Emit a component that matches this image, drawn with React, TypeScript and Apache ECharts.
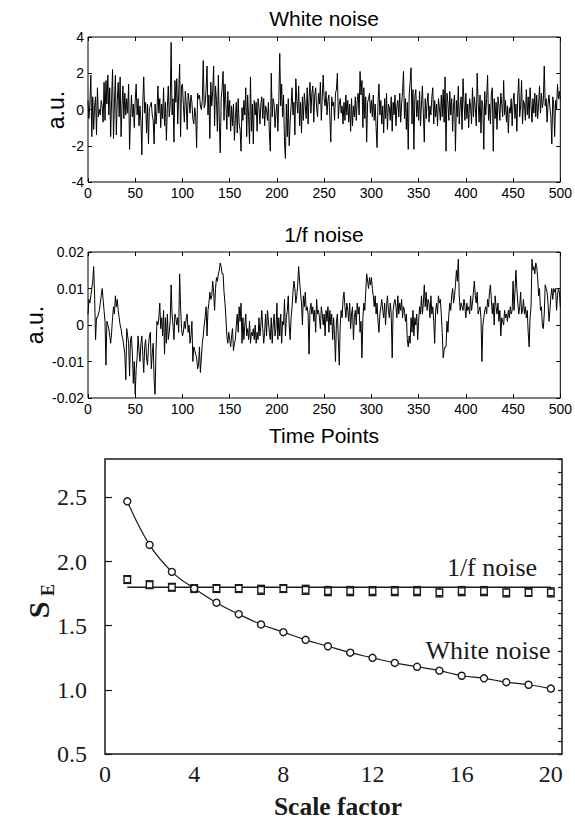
import React, { useEffect, useRef } from "react";
import * as echarts from "echarts";

// ---- Panel A: white noise time series (a.u.), time points 0..500
const whiteNoise = [
  0.5, -0.5, 0.3, 1.9, -1.5, 0.7, -1.1, 0.2, 0.7, -1.4, 1.2, -0.4, 0.0, -0.3, 0.5, 0.2, -0.7, 1.5, -0.6, 1.6, 0.3, 1.9, -0.3, 1.2, -1.5,
  0.6, 2.2, -1.6, 0.4, 1.9, -1.4, 0.5, 1.5, -0.4, 1.8, -1.5, 0.2, 1.3, -0.5, 0.9, -0.3, 0.6, -0.2, 1.4, -2.2, -0.5, 0.8, -0.4, 0.3, -1.0,
  0.5, 1.4, -0.3, 0.6, -0.9, 0.2, -0.6, -2.5, 0.4, 1.8, -0.2, 0.4, -1.3, 0.3, -1.9, 0.1, 0.2, 0.4, -0.3, -0.6, -1.9, 0.3, -0.8, -0.1, 1.3,
  -0.2, 0.6, -1.0, 0.3, -0.5, 1.2, -0.9, 0.4, -1.7, 0.1, 1.3, -0.4, 0.2, 3.7, -0.3, 0.6, -1.8, 1.6, 0.4, 1.7, -0.8, 0.9, 2.5, -1.5, 1.3,
  1.4, 0.2, -0.7, 1.0, 0.3, -1.1, 0.9, 0.5, -0.2, 0.8, 0.4, -0.5, -0.8, 0.1, -0.4, -2.1, 0.9, 0.6, 0.8, 0.2, 0.0, 0.5, 2.7, 0.1, 0.3,
  1.1, 2.4, -0.3, 0.8, -1.6, 1.5, 0.2, 1.0, 2.4, -0.9, 1.3, 0.5, -1.2, 1.9, -0.7, -2.4, 0.6, 1.2, 2.1, -0.6, 1.4, 0.3, -1.1, 1.0, -0.4,
  0.5, -1.2, 0.2, -0.9, 0.3, -1.7, -0.5, 0.4, -1.3, 0.6, -0.8, -1.1, -2.3, 0.1, -0.6, 0.5, -0.3, 1.2, -1.5, 0.8, -0.4, -1.9, 1.8, -1.2, 0.3,
  -1.9, 0.5, -0.3, 0.4, -1.2, 0.6, 0.1, -0.8, 0.3, 0.7, -0.5, 0.6, -0.9, 0.2, 0.0, -0.6, 0.4, -1.3, -2.3, 2.0, -0.4, 0.6, 0.3, -1.0, -0.2,
  0.3, -1.2, 0.5, 3.1, 0.2, 1.4, -0.4, 0.8, -1.8, -2.7, 0.3, -1.5, 0.6, -2.0, -0.7, 0.2, 1.2, -0.3, 0.4, -1.4, 1.7, 0.5, -0.2, 1.3, -0.9,
  0.4, -1.3, 0.7, -0.6, 0.9, 0.2, -0.5, 1.2, -0.8, 0.6, 1.5, -0.2, 0.9, 1.3, -0.7, 0.8, 1.2, 0.1, -0.4, 0.9, 0.3, 1.5, -0.6, 0.7, 1.9,
  0.6, 0.2, 1.0, -0.3, 0.5, 0.8, -0.4, -1.8, 0.7, 0.2, 0.4, -0.6, 0.9, 1.1, 2.0, -0.5, 0.3, 0.6, -0.2, 0.2, -0.8, 0.4, -0.6, 0.8, -0.3,
  0.5, -0.7, 0.3, -1.2, 0.6, -0.9, 0.2, -0.4, 0.7, -0.6, 0.5, 0.9, -0.3, 2.1, 0.8, 1.6, -1.0, 1.2, -0.5, 0.7, -1.8, 0.4, 0.6, 0.9, -0.2,
  0.5, -0.4, 0.8, -0.6, 0.3, -1.0, -2.1, 0.4, 1.4, -0.3, 0.5, -0.8, 0.2, -1.3, 0.6, -0.5, 0.9, -1.1, 0.3, 0.1, -0.6, 0.7, -1.2, 0.4, -0.3,
  0.8, -0.9, 0.2, 0.5, -0.4, 0.9, -0.7, 0.3, 1.0, 2.1, -0.5, 0.6, -1.1, 0.4, -2.2, 0.8, 1.5, 2.3, -0.8, 1.1, -2.2, 0.7, 1.1, -0.4, 0.5,
  -0.6, 1.0, -0.9, 0.3, 1.3, -0.2, -1.8, 0.6, -0.5, 0.4, 0.9, -0.7, 0.2, -0.3, 0.7, 1.2, -0.8, 0.5, -0.4, 0.3, -0.9, 0.6, 0.1, -0.6, 0.8,
  -0.4, 1.1, -0.7, 1.8, -2.3, 0.9, 0.4, -0.6, 1.0, -0.3, 0.6, -1.2, 0.3, 0.8, -2.3, 0.5, -0.4, 1.3, -0.8, 0.2, 0.7, -1.1, 1.7, 0.4, -0.6,
  0.9, -0.5, 0.3, -1.0, 0.6, 0.2, -0.8, 1.2, -0.4, 0.7, 0.1, -0.9, 2.0, 0.4, -0.7, 0.8, -1.3, 0.5, 0.2, -2.2, 1.0, -0.3, 0.6, 1.9, -0.6,
  0.3, -0.8, 0.9, 1.2, -2.3, 0.6, -0.5, 0.4, -1.1, 0.7, 0.2, -0.6, 0.9, 0.3, -0.4, 1.6, -0.3, 0.5, -0.7, 0.2, -1.3, 0.1, -0.2, 0.6, -0.9,
  0.4, 0.9, -0.5, 0.3, -1.2, 0.8, 1.7, -0.4, 0.2, 1.6, -0.8, 0.5, 0.3, -0.6, 1.1, -0.3, 0.7, -0.5, 1.2, 0.2, -0.7, 0.6, -0.2, 0.9, -0.4,
  0.8, -0.5, 0.3, 1.3, -0.2, 0.9, 0.1, 0.5, 2.4, 0.2, 0.6, -0.7, 0.3, 0.8, 0.1, -0.4, -1.9, 0.7, 0.3, -1.5, 0.5, 0.0, 1.4, 0.6, 1.0,
  0.5,
];

// ---- Panel B: 1/f noise time series, in thousandths of a.u.
const oneOverFNoiseMilli = [
  3, 7, 6, 8, 10, 12, 16, 8, -4, 2, 2, 3, 4, 6, 8, 10, 7, 4, 1, -11, 1, 0, -1, -3, -5,
  -2, 2, 5, 3, 8, 5, 7, 4, 2, 0, -1, -3, -4, -6, -8, -15, -1, -3, -5, -14, -4, -3, -8, -16, -10,
  -19, -12, -9, -3, -7, -10, -5, -3, -8, -13, -6, -4, -9, -11, -6, -3, -2, -12, -8, -5, -15, -19, -7, 1, 0,
  2, 6, -1, 2, -3, 4, -8, 2, -5, 3, -4, -2, 1, 11, 3, 0, -4, 3, 2, 0, 2, -2, 14, 5, -1,
  -3, -2, 1, -1, 2, 3, -2, 0, -5, -3, 1, -10, -6, -7, -8, -9, -12, -11, -6, -13, -9, -5, -3, 0, 2,
  5, -3, 4, 6, 9, 7, 8, 12, 9, 4, 10, 13, 12, 14, 15, 17, 16, 14, 14, 9, 6, 2, -3, -5, -2,
  -4, -6, -3, -1, -7, -5, -4, 0, 3, -2, 5, 1, 6, -5, 2, -4, 0, 3, -3, -1, -4, 1, -5, -2, -3,
  -1, -4, 0, -5, -2, -4, 2, -3, 0, 4, -1, -5, -2, 3, -3, 4, 1, -2, -4, 2, -5, 0, 3, -3, -1,
  6, -4, 2, -3, 3, -5, 1, 0, 7, -3, 2, 4, 8, 0, -4, 2, 5, 9, 12, 10, 6, 8, 11, 16, 12,
  9, 6, 0, 8, 5, 9, 4, 5, 3, -8, 4, 6, 3, 5, 1, 4, -2, 7, 3, 4, 2, -1, 5, 3, 0,
  3, -3, 4, 1, 5, -2, 4, 0, 3, -4, 2, -3, -10, 1, 3, -4, -11, 0, 4, 2, 7, 9, 5, 2, 6,
  4, 1, 6, -1, 3, 5, -4, 2, 4, 0, 6, 3, 5, -2, 1, -9, 2, 6, 4, 9, 14, 12, 10, 13, 11,
  13, 10, 8, 5, 8, 3, 6, 1, -2, 3, 5, 7, 4, 2, 6, 0, 5, 8, 4, 2, 6, 3, -9, 4, 6,
  7, 5, 2, 8, 3, 6, 4, 7, 2, 5, 4, 1, 3, -4, -6, -3, -5, 2, -2, 4, -3, 2, 0, 3, -4,
  1, 5, 3, 8, 3, 6, 11, 5, 9, 4, 7, 6, 2, 8, 3, 5, 1, -5, 4, 6, 3, 8, 6, 7, 3,
  -2, -9, -7, -6, -6, 1, -2, 3, 6, 4, 8, 10, 6, 8, 11, 15, 12, 18, 8, 4, 6, 5, 4, 7, 5,
  2, 6, 4, 5, 3, 8, 4, 6, 9, 12, 8, 6, 9, 3, 4, 5, 2, -10, 0, 2, 4, 5, 3, 7, 5,
  9, 11, 7, 3, 6, 0, 8, 5, 3, 6, 1, 4, -3, 2, 1, 0, 4, 2, 3, 1, 4, 2, 5, 3, 4,
  12, 4, 9, 15, 10, 6, 3, 5, 9, 3, 4, 7, 3, 5, 2, 4, -2, -6, 2, 5, 18, 15, 16, 14, 17,
  16, 13, 8, 10, 4, 5, 0, -1, 3, 11, 10, 9, 6, 1, 4, 8, 10, 7, 10, 9, 10, 4, 8, 10, 9,
  5,
];

const timeTicks = { min: 0, max: 500, interval: 50 };

// ---- Panel C: sample entropy vs scale factor
const scaleFactors = [1, 2, 3, 4, 5, 6, 7, 8, 9, 10, 11, 12, 13, 14, 15, 16, 17, 18, 19, 20];
const seWhite = [2.47, 2.13, 1.92, 1.79, 1.68, 1.59, 1.51, 1.45, 1.39, 1.34, 1.29, 1.25, 1.21, 1.18, 1.15, 1.11, 1.09, 1.06, 1.04, 1.01];
const seOneOverF = [1.86, 1.82, 1.80, 1.79, 1.79, 1.79, 1.78, 1.79, 1.78, 1.77, 1.77, 1.77, 1.77, 1.77, 1.76, 1.77, 1.77, 1.76, 1.76, 1.76];
const seOneOverFErr = [0.03, 0.03, 0.03, 0.03, 0.03, 0.03, 0.035, 0.03, 0.035, 0.035, 0.035, 0.035, 0.035, 0.035, 0.035, 0.035, 0.035, 0.035, 0.03, 0.035];
const oneOverFLevel = 1.8;
const oneOverFLineRange = [1, 20];

const SANS = "'Liberation Sans', Arial, sans-serif";
const SERIF = "'Liberation Serif', 'Times New Roman', serif";
const INK = "#000";
const INK2 = "#1a1a1a";

function noiseAxes(gridIndex: number, yMin: number, yMax: number, yInt: number) {
  const hiddenLine = { show: false, onZero: false };
  const tick = { show: true, inside: true, length: 4, lineStyle: { color: INK } };
  const xs = [
    {
      type: "value", gridIndex, ...timeTicks, position: "bottom",
      axisLine: hiddenLine, axisTick: tick,
      axisLabel: { color: INK, fontFamily: SANS, fontSize: 14, margin: 4 },
      splitLine: { show: false },
    },
    {
      type: "value", gridIndex, ...timeTicks, position: "top",
      axisLine: hiddenLine, axisTick: tick,
      axisLabel: { show: false },
      splitLine: { show: false },
    },
  ];
  const ys = [
    {
      type: "value", gridIndex, min: yMin, max: yMax, interval: yInt, position: "left",
      axisLine: hiddenLine, axisTick: tick,
      axisLabel: { color: INK, fontFamily: SANS, fontSize: 14, margin: 4 },
      splitLine: { show: false },
    },
    {
      type: "value", gridIndex, min: yMin, max: yMax, interval: yInt, position: "right",
      axisLine: hiddenLine, axisTick: tick,
      axisLabel: { show: false },
      splitLine: { show: false },
    },
  ];
  return { xs, ys };
}

export default function App() {
  const ref = useRef<HTMLDivElement>(null);

  useEffect(() => {
    if (!ref.current) return;
    const chart = echarts.init(ref.current, undefined, { renderer: "svg" });

    const a = noiseAxes(0, -4, 4, 2);
    const b = noiseAxes(1, -0.02, 0.02, 0.01);

    const xAxis: any[] = [
      ...a.xs,
      ...b.xs,
      {
        type: "value", gridIndex: 2, min: 0, max: 20.5, interval: 4,
        axisLine: { show: false, onZero: false },
        axisTick: { show: false },
        axisLabel: { color: INK2, fontFamily: SERIF, fontSize: 24, margin: 8, showMaxLabel: false },
        splitLine: { show: false },
      },
    ];
    const yAxis: any[] = [
      ...a.ys,
      ...b.ys,
      {
        type: "value", gridIndex: 2, min: 0.5, max: 2.8, interval: 0.5,
        axisLine: { show: false, onZero: false },
        axisTick: { show: true, inside: true, length: 7, lineStyle: { color: INK2, width: 1.2 } },
        axisLabel: {
          color: INK2, fontFamily: SERIF, fontSize: 24, margin: 18, showMaxLabel: false,
          formatter: (v: number) => v.toFixed(1),
        },
        splitLine: { show: false },
      },
      {
        type: "value", gridIndex: 2, min: 0.5, max: 2.8, interval: 0.1,
        axisLine: { show: false, onZero: false },
        axisTick: { show: true, inside: true, length: 4, lineStyle: { color: INK2, width: 1.2 } },
        axisLabel: { show: false },
        splitLine: { show: false },
      },
    ];

    const lineBase = {
      type: "line", showSymbol: false, symbol: "none",
      lineStyle: { color: INK, width: 1 }, silent: true,
    };

    const option: any = {
      animation: false,
      backgroundColor: "#fff",
      grid: [
        { left: 88, top: 37, width: 473, height: 145, show: true, borderColor: INK, borderWidth: 1, backgroundColor: "transparent" },
        { left: 88, top: 252, width: 473, height: 146, show: true, borderColor: INK, borderWidth: 1, backgroundColor: "transparent" },
        { left: 105, top: 459, width: 457, height: 295, show: true, borderColor: INK2, borderWidth: 1.5, backgroundColor: "transparent" },
      ],
      xAxis,
      yAxis,
      series: [
        { ...lineBase, xAxisIndex: 0, yAxisIndex: 0, data: whiteNoise.map((v, i) => [i, v]) },
        { ...lineBase, xAxisIndex: 2, yAxisIndex: 2, data: oneOverFNoiseMilli.map((v, i) => [i, v / 1000]) },
        {
          type: "line", xAxisIndex: 4, yAxisIndex: 4, data: oneOverFLineRange.map((x) => [x, oneOverFLevel]),
          showSymbol: false, symbol: "none", lineStyle: { color: INK2, width: 1.3 }, z: 2,
        },
        {
          type: "custom", xAxisIndex: 4, yAxisIndex: 4, z: 3,
          data: scaleFactors.map((s, i) => [s, seOneOverF[i] - seOneOverFErr[i], seOneOverF[i] + seOneOverFErr[i]]),
          renderItem: (params: any, api: any) => {
            const x = api.value(0);
            const p1 = api.coord([x, api.value(1)]);
            const p2 = api.coord([x, api.value(2)]);
            const w = 4;
            const st = { stroke: INK2, lineWidth: 1.4 };
            return {
              type: "group",
              children: [
                { type: "line", shape: { x1: p1[0], y1: p1[1], x2: p2[0], y2: p2[1] }, style: st },
                { type: "line", shape: { x1: p1[0] - w, y1: p1[1], x2: p1[0] + w, y2: p1[1] }, style: st },
                { type: "line", shape: { x1: p2[0] - w, y1: p2[1], x2: p2[0] + w, y2: p2[1] }, style: st },
              ],
            };
          },
        },
        {
          type: "scatter", xAxisIndex: 4, yAxisIndex: 4, z: 4,
          data: scaleFactors.map((s, i) => [s, seOneOverF[i]]),
          symbol: "rect", symbolSize: 6.5,
          itemStyle: { color: "#fff", borderColor: INK2, borderWidth: 1.4, opacity: 1 },
        },
        {
          type: "line", xAxisIndex: 4, yAxisIndex: 4, z: 5, smooth: 0.4,
          data: scaleFactors.map((s, i) => [s, seWhite[i]]),
          symbol: "circle", symbolSize: 7, showSymbol: true,
          lineStyle: { color: INK2, width: 1.2 },
          itemStyle: { color: "#fff", borderColor: INK2, borderWidth: 1.4 },
        },
      ],
      graphic: [
        { type: "text", x: 324, y: 18, style: { text: "White noise", font: `21px ${SANS}`, fill: INK, align: "center", verticalAlign: "middle" } },
        { type: "text", x: 324, y: 234, style: { text: "1/f noise", font: `21px ${SANS}`, fill: INK, align: "center", verticalAlign: "middle" } },
        { type: "text", x: 324, y: 435, style: { text: "Time Points", font: `21px ${SANS}`, fill: INK, align: "center", verticalAlign: "middle" } },
        { type: "text", x: 56, y: 110, rotation: Math.PI / 2, style: { text: "a.u.", font: `23px ${SANS}`, fill: INK, align: "center", verticalAlign: "middle" } },
        { type: "text", x: 35, y: 325, rotation: Math.PI / 2, style: { text: "a.u.", font: `23px ${SANS}`, fill: INK, align: "center", verticalAlign: "middle" } },
        { type: "text", x: 492, y: 567, style: { text: "1/f noise", font: `26px ${SERIF}`, fill: INK2, align: "center", verticalAlign: "middle" } },
        { type: "text", x: 488, y: 650, style: { text: "White noise", font: `26px ${SERIF}`, fill: INK2, align: "center", verticalAlign: "middle" } },
        { type: "text", x: 338, y: 806, style: { text: "Scale factor", font: `bold 25.5px ${SERIF}`, fill: INK2, align: "center", verticalAlign: "middle" } },
        { type: "text", x: 38, y: 610, rotation: Math.PI / 2, style: { text: "S", font: `bold 30px ${SERIF}`, fill: INK2, align: "center", verticalAlign: "middle" } },
        { type: "text", x: 48, y: 590, rotation: Math.PI / 2, style: { text: "E", font: `bold 18px ${SERIF}`, fill: INK2, align: "center", verticalAlign: "middle" } },
      ],
    };

    chart.setOption(option);
    return () => chart.dispose();
  }, []);

  return <div ref={ref} style={{ position: "absolute", left: 0, top: 0, width: 575, height: 820 }} />;
}
